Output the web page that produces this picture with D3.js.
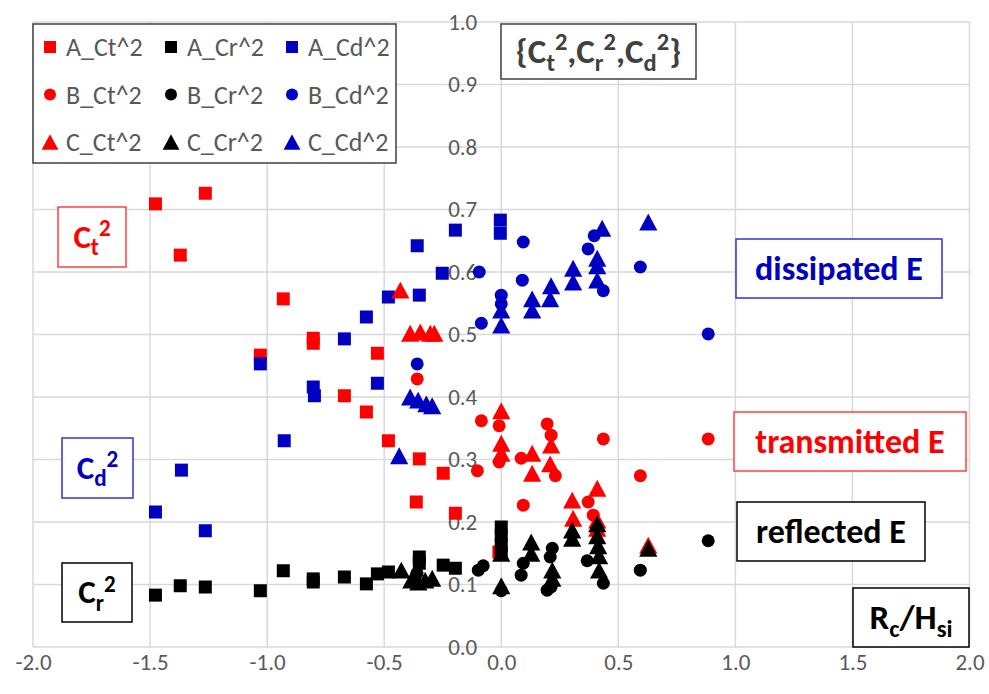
<!DOCTYPE html>
<html>
<head>
<meta charset="utf-8">
<script src="https://cdn.jsdelivr.net/npm/d3@7"></script>
<style>
  body { margin: 0; background: #fff; }
  svg text { font-family: Carlito, Calibri, Lato, sans-serif; }
</style>
</head>
<body>
<svg id="chart" width="989" height="694"></svg>
<script>
// axis ticks
const xTicks = [-2.0, -1.5, -1.0, -0.5, 0.0, 0.5, 1.0, 1.5, 2.0];
const yTicks = [0.0, 0.1, 0.2, 0.3, 0.4, 0.5, 0.6, 0.7, 0.8, 0.9, 1.0];

// series A (squares)
const aCt = [[-1.477, 0.709], [-1.264, 0.726], [-1.371, 0.627], [-0.931, 0.557], [-1.029, 0.467],
  [-0.803, 0.494], [-0.803, 0.486], [-0.529, 0.470], [-0.670, 0.402], [-0.576, 0.376],
  [-0.482, 0.330], [-0.350, 0.301], [-0.248, 0.278], [-0.363, 0.232], [-0.196, 0.214], [-0.01, 0.152]];
const aCr = [[-1.477, 0.083], [-1.371, 0.098], [-1.264, 0.096], [-1.029, 0.090], [-0.931, 0.122],
  [-0.803, 0.109], [-0.803, 0.104], [-0.670, 0.112], [-0.576, 0.101], [-0.529, 0.117],
  [-0.482, 0.120], [-0.350, 0.144], [-0.350, 0.134], [-0.248, 0.131], [-0.196, 0.126],
  [0.0, 0.192], [0.0, 0.178], [0.0, 0.163], [0.0, 0.150]];
const aCd = [[-1.477, 0.216], [-1.264, 0.186], [-1.366, 0.283], [-0.927, 0.330], [-1.029, 0.453],
  [-0.803, 0.416], [-0.798, 0.402], [-0.670, 0.493], [-0.576, 0.528], [-0.482, 0.560],
  [-0.529, 0.422], [-0.359, 0.642], [-0.350, 0.563], [-0.252, 0.598], [-0.196, 0.667],
  [-0.004, 0.683], [-0.004, 0.662]];

// series B (circles)
const bCt = [[-0.359, 0.429], [-0.085, 0.362], [-0.009, 0.354], [-0.009, 0.296], [-0.102, 0.282],
  [0.085, 0.302], [0.196, 0.357], [0.213, 0.339], [0.231, 0.274], [0.436, 0.333],
  [0.594, 0.274], [0.094, 0.227], [0.371, 0.232], [0.393, 0.211], [0.884, 0.333]];
const bCr = [[-0.36, 0.118], [-0.098, 0.123], [-0.077, 0.130], [0.0, 0.090], [0.094, 0.134], [0.085, 0.115],
  [0.218, 0.158], [0.209, 0.144], [0.196, 0.091], [0.213, 0.096], [0.367, 0.138],
  [0.436, 0.102], [0.594, 0.123], [0.884, 0.170]];
const bCd = [[-0.359, 0.453], [-0.094, 0.600], [-0.085, 0.518], [0.0, 0.563], [0.0, 0.549],
  [0.094, 0.648], [0.090, 0.587], [0.371, 0.637], [0.397, 0.658], [0.436, 0.570],
  [0.594, 0.608], [0.884, 0.501]];

// series C (triangles)
const cCt = [[-0.431, 0.571], [-0.389, 0.502], [-0.346, 0.504], [-0.303, 0.502], [-0.286, 0.502],
  [0.0, 0.378], [0.0, 0.326], [0.0, 0.310], [0.132, 0.310], [0.132, 0.278],
  [0.213, 0.323], [0.209, 0.293], [0.303, 0.235], [0.410, 0.254], [0.307, 0.206],
  [0.410, 0.203], [0.410, 0.190], [0.628, 0.163]];
const cCr = [[-0.427, 0.123], [-0.384, 0.107], [-0.354, 0.104], [-0.325, 0.107], [-0.295, 0.110],
  [0.0, 0.150], [0.0, 0.098], [0.128, 0.168], [0.128, 0.150], [0.218, 0.123],
  [0.218, 0.110], [0.303, 0.187], [0.303, 0.174], [0.410, 0.197], [0.410, 0.178],
  [0.414, 0.162], [0.418, 0.146], [0.418, 0.123], [0.628, 0.158]];
const cCd = [[-0.436, 0.306], [-0.389, 0.400], [-0.355, 0.395], [-0.320, 0.389], [-0.295, 0.386],
  [0.0, 0.539], [0.0, 0.515], [0.132, 0.557], [0.132, 0.539], [0.213, 0.578],
  [0.209, 0.557], [0.307, 0.606], [0.307, 0.584], [0.410, 0.622], [0.410, 0.610],
  [0.410, 0.587], [0.431, 0.670], [0.628, 0.680]];

const seriesNames = ["A_Ct^2", "A_Cr^2", "A_Cd^2", "B_Ct^2", "B_Cr^2", "B_Cd^2", "C_Ct^2", "C_Cr^2", "C_Cd^2"];
const seriesData = [aCt, aCr, aCd, bCt, bCr, bCd, cCt, cCr, cCd];

const RED = "#ff0000", BLACK = "#000000", BLUE = "#0000c0";
const colors = [RED, BLACK, BLUE, RED, BLACK, BLUE, RED, BLACK, BLUE];
const shapes = ["square", "square", "square", "circle", "circle", "circle", "triangle", "triangle", "triangle"];

const svg = d3.select("#chart");
const x = d3.scaleLinear().domain([-2, 2]).range([33, 969.5]);
const y = d3.scaleLinear().domain([0, 1]).range([647, 22]);

// gridlines
svg.append("g")
  .selectAll("line.v")
  .data(xTicks)
  .enter()
  .append("line")
  .attr("x1", (d) => x(d)).attr("x2", (d) => x(d))
  .attr("y1", y(1)).attr("y2", y(0))
  .attr("stroke", "#d9d9d9").attr("stroke-width", 1.5);

svg.append("g")
  .selectAll("line.h")
  .data(yTicks)
  .enter()
  .append("line")
  .attr("x1", x(-2)).attr("x2", x(2))
  .attr("y1", (d) => y(d)).attr("y2", (d) => y(d))
  .attr("stroke", "#d9d9d9").attr("stroke-width", 1.5);

// x axis labels along bottom
const xAxis = d3.axisBottom(x).tickValues(xTicks).tickSize(0).tickPadding(7);
const gx = svg.append("g").attr("transform", "translate(0," + y(0) + ")").call(xAxis);
gx.select(".domain").remove();
gx.selectAll("text").attr("fill", "#595959").style("font-size", "23px")
  .text((d) => d3.format(".1f")(d).replace("\u2212", "-"));

// y axis labels sit next to x = 0
const yAxis = d3.axisLeft(y).tickValues(yTicks).tickFormat(d3.format(".1f")).tickSize(0).tickPadding(24);
const gy = svg.append("g").attr("transform", "translate(" + x(0) + ",0)").call(yAxis);
gy.select(".domain").remove();
gy.selectAll("text").attr("fill", "#595959").style("font-size", "23px");

// markers
function markerPath(shape, s) {
  if (shape === "square") {
    const h = s / 2;
    return `M${-h},${-h}H${h}V${h}H${-h}Z`;
  }
  if (shape === "circle") {
    const r = s / 2;
    return `M${r},0A${r},${r} 0 1,1 ${-r},0A${r},${r} 0 1,1 ${r},0Z`;
  }
  const w = s * 1.4 / 2, h = s * 1.3 / 2;
  return `M0,${-h}L${w},${h}L${-w},${h}Z`;
}

seriesData.forEach((data, i) => {
  svg.append("g")
    .selectAll("path")
    .data(data)
    .enter()
    .append("path")
    .attr("d", markerPath(shapes[i], 13))
    .attr("transform", (d) => `translate(${x(d[0])},${y(d[1])})`)
    .attr("fill", colors[i]);
});

// legend
const legend = svg.append("g");
legend.append("rect")
  .attr("x", 33).attr("y", 24).attr("width", 363).attr("height", 139)
  .attr("fill", "#fff").attr("stroke", "#404040").attr("stroke-width", 1.5);
seriesNames.forEach((name, i) => {
  const col = i % 3, row = Math.floor(i / 3);
  const lx = 50 + col * 121, ly = 47 + row * 47.5;
  legend.append("path")
    .attr("d", markerPath(shapes[i], 12))
    .attr("transform", `translate(${lx},${ly})`)
    .attr("fill", colors[i]);
  legend.append("text")
    .attr("x", lx + 16).attr("y", ly + 9)
    .attr("fill", "#595959").style("font-size", "26px")
    .text(name);
});

// labelled text boxes
function textBox(bx, by, bw, bh, stroke, color, size, parts) {
  svg.append("rect")
    .attr("x", bx).attr("y", by).attr("width", bw).attr("height", bh)
    .attr("fill", "#fff").attr("stroke", stroke).attr("stroke-width", 1.5);
  const t = svg.append("text")
    .attr("x", bx + bw / 2).attr("y", by + bh / 2 + size * 0.33)
    .attr("text-anchor", "middle")
    .attr("fill", color).style("font-size", size + "px").style("font-weight", "bold");
  let shift = 0;
  parts.forEach((p) => {
    const target = p.sub ? size * 0.22 : p.sup ? -size * 0.36 : 0;
    t.append("tspan")
      .attr("dy", target - shift)
      .style("font-size", (p.sub || p.sup ? size * 0.7 : size) + "px")
      .text(p.t);
    shift = target;
  });
}

textBox(501, 24, 195, 55, "#404040", "#404040", 35, [
  { t: "{C" }, { t: "t", sub: true }, { t: "2", sup: true }, { t: ",C" }, { t: "r", sub: true },
  { t: "2", sup: true }, { t: ",C" }, { t: "d", sub: true }, { t: "2", sup: true }, { t: "}" }]);
textBox(58, 207, 68, 60, "#ff4040", RED, 33, [{ t: "C" }, { t: "t", sub: true }, { t: "2", sup: true }]);
textBox(62, 438, 71, 60, "#3333cc", BLUE, 33, [{ t: "C" }, { t: "d", sub: true }, { t: "2", sup: true }]);
textBox(62, 563, 70, 59, "#000", BLACK, 33, [{ t: "C" }, { t: "r", sub: true }, { t: "2", sup: true }]);
textBox(736, 239, 206, 59, "#3333cc", BLUE, 34, [{ t: "dissipated E" }]);
textBox(734, 412, 232, 59, "#ff4040", RED, 34, [{ t: "transmitted E" }]);
textBox(737, 502, 188, 59, "#000", BLACK, 34, [{ t: "reflected E" }]);
textBox(853, 588, 116, 59, "#000", BLACK, 35, [{ t: "R" }, { t: "c", sub: true }, { t: "/H" }, { t: "si", sub: true }]);
</script>
</body>
</html>
